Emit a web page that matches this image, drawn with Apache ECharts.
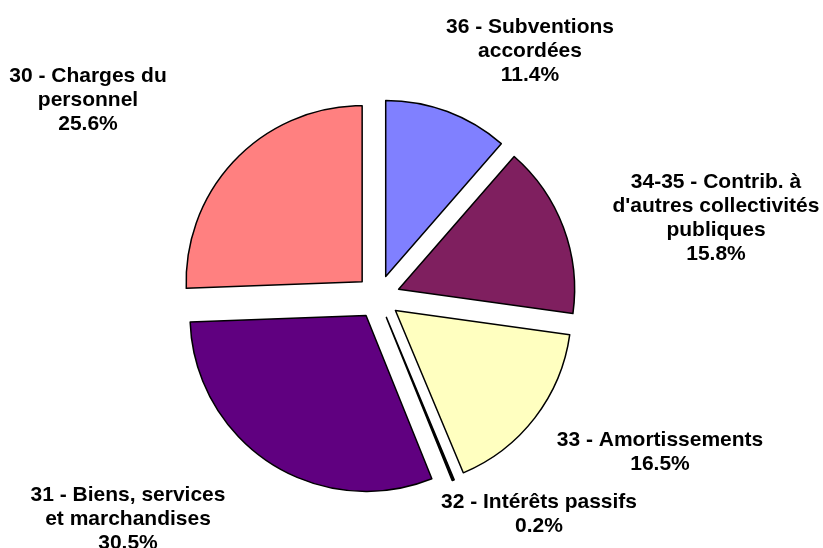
<!DOCTYPE html>
<html>
<head>
<meta charset="utf-8">
<script src="https://cdn.jsdelivr.net/npm/echarts@6/dist/echarts.min.js"></script>
<style>
  html, body { margin: 0; padding: 0; background: #fff; }
  #chart { width: 823px; height: 548px; }
</style>
</head>
<body>
<div id="chart"></div>
<script>
// slices, clockwise from 12 o'clock
const names = [
  '36 - Subventions\naccordées',
  '34-35 - Contrib. à\nd\'autres collectivités\npubliques',
  '33 - Amortissements',
  '32 - Intérêts passifs',
  '31 - Biens, services\net marchandises',
  '30 - Charges du\npersonnel'
]
const values = [11.4, 15.8, 16.5, 0.2, 30.5, 25.6]
const colors = ['#8080FF', '#7F1F5F', '#FFFFC0', '#000000', '#600080', '#FF8080']

// where each label block is centred
const labelPos = [
  [530, 51], [716, 218], [660, 452], [539, 514], [128, 519], [88, 100]
]

const chart = echarts.init(document.getElementById('chart'))

const pieBase = {
  type: 'pie',
  center: [378, 297],
  radius: 176,
  startAngle: 90,
  clockwise: true,
  emphasis: { disabled: true }
}

chart.setOption({
  animation: false,
  series: [
    // the exploded slices
    Object.assign({}, pieBase, {
      selectedMode: 'multiple',
      selectedOffset: 22,
      itemStyle: { borderColor: '#000', borderWidth: 1.5 },
      label: { show: false },
      labelLine: { show: false },
      data: values.map((v, i) => ({
        name: names[i],
        value: v,
        selected: true,
        itemStyle: { color: colors[i] }
      }))
    }),
    // same slices, invisible, carrying the labels
    Object.assign({}, pieBase, {
      silent: true,
      avoidLabelOverlap: false,
      itemStyle: { color: 'rgba(0,0,0,0)', borderWidth: 0 },
      label: {
        show: true,
        position: 'outside',
        color: '#000',
        fontFamily: 'Liberation Sans, Arial, sans-serif',
        fontWeight: 'bold',
        fontSize: 21,
        lineHeight: 24,
        align: 'center',
        formatter: p => p.name + '\n' + p.value.toFixed(1) + '%'
      },
      labelLine: { show: false },
      labelLayout: p => ({
        x: labelPos[p.dataIndex][0],
        y: labelPos[p.dataIndex][1],
        align: 'center',
        verticalAlign: 'middle'
      }),
      data: values.map((v, i) => ({ name: names[i], value: v }))
    })
  ]
})
</script>
</body>
</html>
